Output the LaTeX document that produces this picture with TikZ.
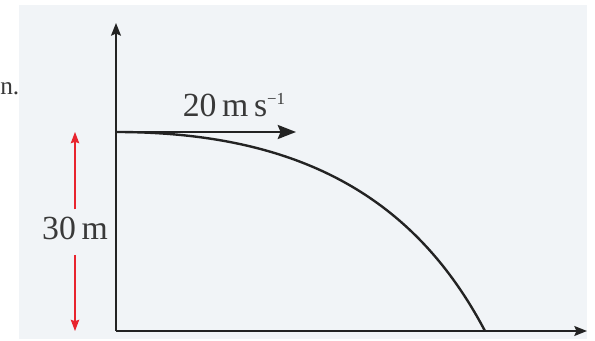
\documentclass[tikz,border=0pt]{standalone}
\usepackage{fontspec}
\setmainfont{Liberation Serif}
\usetikzlibrary{arrows.meta}
\definecolor{panel}{RGB}{241,244,247}
\definecolor{ink}{RGB}{35,35,35}
\definecolor{hred}{RGB}{232,36,46}
\newcommand{\smallsup}[1]{\raisebox{9pt}{\fontsize{12}{14}\selectfont #1}}

\begin{document}
\begin{tikzpicture}[
    x=0.025cm, y=-0.025cm,
    font=\fontsize{24}{28}\selectfont,
    axis/.style={-{Stealth[length=9pt, width=7pt, inset=1.5pt]}, draw=ink, line width=1.3pt},
    vel/.style={-{Stealth[length=13pt, width=10pt, inset=2pt]}, draw=ink, line width=1.6pt},
    traj/.style={draw=ink, line width=1.7pt},
    hgt/.style={-{Stealth[length=8pt, width=6pt, inset=1pt]}, draw=hred, line width=0.9pt},
    lbl/.style={text=ink!90, inner sep=2pt, anchor=base}
]
\useasboundingbox (0,0) rectangle (595,341);
\fill[panel] (19,5) rectangle (587,339);
\node[lbl, font=\fontsize{18}{22}\selectfont, inner sep=0pt, anchor=base west] (cut) at (0,95) {n.};
% axes
\coordinate (O) at (116,331);
\coordinate (ytop) at (116,23);
\coordinate (xend) at (587,331);
\draw[axis] (O) -- (ytop);
\draw[axis] (O) -- (xend);
% launch velocity
\coordinate (launch) at (116,132);
\coordinate (vtip) at (296,132);
\coordinate (land) at (485,331);
\draw[vel] (launch) -- (vtip);
\node[lbl] (v) at (234,117) {20\,m\,s\smallsup{−1}};
% trajectory
\draw[traj] (launch) .. controls (300,132) and (415,198) .. (land);
% height
\node[lbl] (h) at (75,240) {\strut 30\,m};
\coordinate (htop) at (75,132);
\coordinate (hbot) at (75,331);
\draw[hgt] (h.north) -- (htop);
\draw[hgt] (h.south) -- (hbot);
\end{tikzpicture}
\end{document}
